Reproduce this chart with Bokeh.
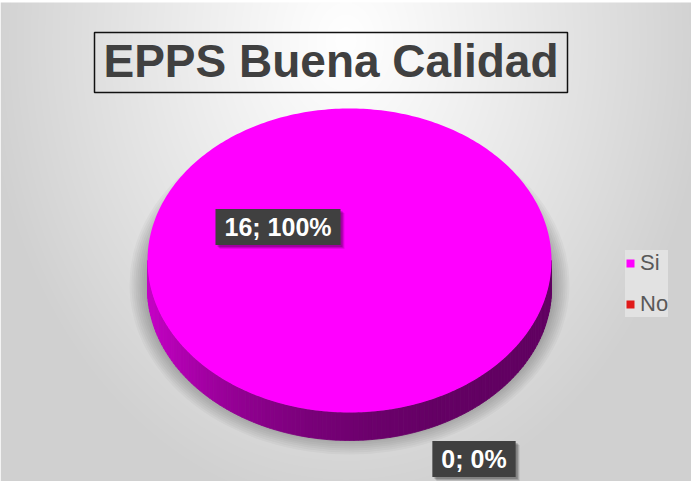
import numpy as np
from bokeh.plotting import figure
from bokeh.models import Range1d, Legend, LegendItem
from bokeh.core.properties import value
from bokeh.embed import file_html
from bokeh.resources import INLINE

# ---- data ----
categories = ["Si", "No"]
counts = [16, 0]
slice_colors = ["#FF00FF", "#E01B1B"]
title_text = "EPPS Buena Calidad"

# ---- layout constants ----
W, H = 691, 481
CX, CY = 349, 221          # pie centre (data units = pixels)
A, B, DEPTH = 202, 152, 28  # ellipse semi-axes and 3D depth
label_pos_x = [277.5, 473.5]
label_pos_y = [254.5, 22.5]

p = figure(width=W, height=H, x_range=Range1d(0, W), y_range=Range1d(0, H),
           output_backend="svg", toolbar_location=None, min_border=0,
           x_axis_location=None, y_axis_location=None)
p.grid.visible = False
p.outline_line_color = None
p.background_fill_color = "white"
p.border_fill_color = "white"

# ---- radial gradient background ----
bw, bh = W, H - 2
yy, xx = np.mgrid[0:bh, 0:bw]
d = np.sqrt(((xx - 345) / 430.0) ** 2 + ((yy - 440) / 560.0) ** 2)
g = (255 - 47 * np.clip(d / 0.85, 0, 1) ** 1.1).astype(np.uint8)
img = np.empty((bh, bw), dtype=np.uint32)
v = img.view(dtype=np.uint8).reshape((bh, bw, 4))
v[..., 0] = g
v[..., 1] = g
v[..., 2] = g
v[..., 3] = 255
p.image_rgba(image=[img], x=0, y=0, dw=bw, dh=bh)

# ---- soft shadow under pie ----
for k in range(9):
    s = 2 + 2 * k
    p.ellipse(x=[CX], y=[CY - 24], width=[2 * A + 2 * s], height=[2 * B + 2 * s],
              fill_color="black", fill_alpha=0.03, line_color=None)

# ---- pie angles from data ----
total = float(sum(counts))
fracs = [c / total for c in counts]
starts, ends = [], []
ang = np.pi / 2
for f in fracs:
    starts.append(ang)
    ang -= 2 * np.pi * f
    ends.append(ang)


def hex_rgb(h):
    h = h.lstrip("#")
    return tuple(int(h[i:i + 2], 16) for i in (0, 2, 4))


def owner(theta):
    rel = (np.pi / 2 - theta) % (2 * np.pi)
    acc = 0.0
    for i, f in enumerate(fracs):
        acc += f * 2 * np.pi
        if rel < acc:
            return i
    return len(fracs) - 1


# ---- 3D side (front half) ----
N = 140
sxs, sys_, scol = [], [], []
for j in range(N):
    t0 = np.pi + j * np.pi / N
    t1 = np.pi + (j + 1) * np.pi / N
    tm = 0.5 * (t0 + t1)
    i = owner(tm)
    r, gg, bb = hex_rgb(slice_colors[i])
    t = (1 + np.cos(tm)) / 2
    shade = 0.385 + 0.395 * (1 - t) ** 2.8
    col = "#%02x%02x%02x" % (int(r * shade), int(gg * shade), int(bb * shade))
    x0, x1 = CX + A * np.cos(t0), CX + A * np.cos(t1)
    y0, y1 = CY + B * np.sin(t0), CY + B * np.sin(t1)
    sxs.append([x0, x1, x1, x0])
    sys_.append([y0, y1, y1 - DEPTH, y0 - DEPTH])
    scol.append(col)
p.patches(xs=sxs, ys=sys_, fill_color=scol, line_color=scol, line_width=0.8)

# ---- top faces ----
txs, tys = [], []
for s0, e0 in zip(starts, ends):
    th = np.linspace(s0, e0, max(3, int(abs(s0 - e0) / (2 * np.pi) * 360) + 2))
    txs.append([CX] + list(CX + A * np.cos(th)))
    tys.append([CY] + list(CY + B * np.sin(th)))
top = p.patches(xs=txs, ys=tys, fill_color=slice_colors, line_color=None)

# ---- data labels (with soft drop shadow) ----
label_text = ["%d; %d%%" % (c, round(100 * c / total)) for c in counts]
for off, alpha in [(4, 0.10), (3, 0.14), (2, 0.18)]:
    p.text(x=[x + off for x in label_pos_x], y=[y - off for y in label_pos_y],
           text=label_text, text_font=value("Liberation Sans"),
           text_font_style="bold", text_font_size="25px", text_alpha=0.0,
           text_align="center", text_baseline="middle",
           background_fill_color="black", background_fill_alpha=alpha,
           padding=dict(x=9, y=4))
p.text(x=label_pos_x, y=label_pos_y, text=label_text,
       text_font=value("Liberation Sans"), text_font_style="bold",
       text_font_size="25px", text_color="white", text_align="center",
       text_baseline="middle", background_fill_color="#404040",
       padding=dict(x=9, y=4))

# ---- title with box ----
p.quad(left=[94], right=[567], top=[449], bottom=[389], fill_color=None,
       line_color="#111111", line_width=1.5)
p.text(x=[330.5], y=[421], text=[title_text], text_font=value("Liberation Sans"),
       text_font_style="bold", text_font_size="46px", text_color="#404040",
       text_align="center", text_baseline="middle")

# ---- legend ----
items = [LegendItem(label=c, renderers=[top], index=i) for i, c in enumerate(categories)]
legend = Legend(items=items, location=(625, 164), orientation="vertical",
                glyph_width=10, glyph_height=10, label_standoff=5,
                label_text_font="Liberation Sans", label_text_font_size="22px",
                label_text_color="#595959", padding=8, spacing=15, margin=0,
                background_fill_color="#e2e2e2", background_fill_alpha=1.0,
                border_line_color=None)
p.add_layout(legend, "center")

open("out.html", "w").write(file_html(p, INLINE))
